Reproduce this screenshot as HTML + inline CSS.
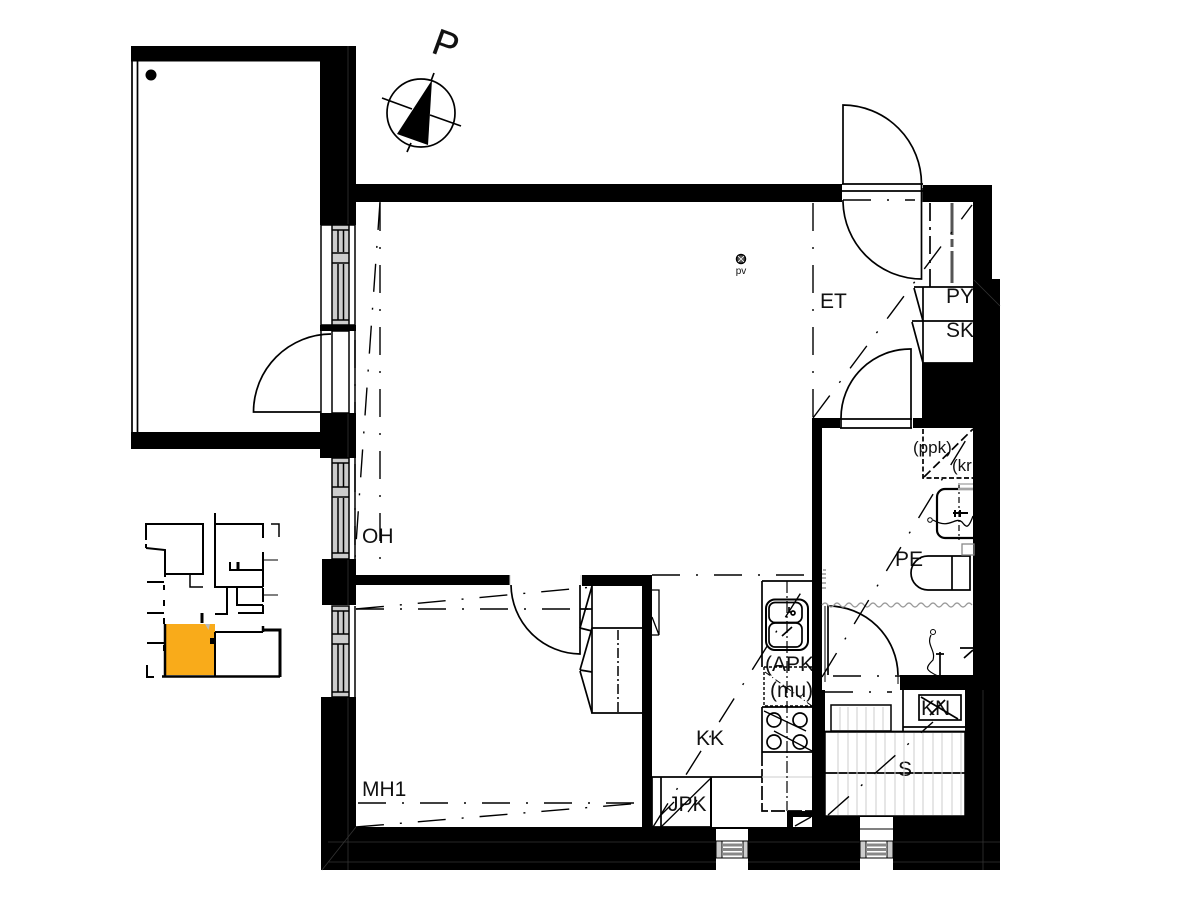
<!DOCTYPE html>
<html>
<head>
<meta charset="utf-8">
<style>
html,body{margin:0;padding:0;background:#fff;}
svg{display:block;}
text{font-family:"Liberation Sans",sans-serif;fill:#111;}
</style>
</head>
<body>
<svg width="1200" height="900" viewBox="0 0 1200 900" xmlns="http://www.w3.org/2000/svg">
<rect width="1200" height="900" fill="#fff"/>

<!-- labels (below walls so walls clip them) -->
<g font-size="21">
<text x="820" y="308">ET</text>
<text x="946" y="303">PY</text>
<text x="946" y="337">SK</text>
<text x="362" y="543">OH</text>
<text x="895" y="566">PE</text>
<text x="765" y="671">(APK</text>
<text x="770" y="697">(mu)</text>
<text x="696" y="745">KK</text>
<text x="668" y="811">JPK</text>
<text x="921" y="715">KN</text>
<text x="898" y="776">S</text>
<text x="362" y="796">MH1</text>
</g>
<text x="913" y="453" font-size="17">(ppk)</text>
<text x="952" y="471" font-size="17">(kr</text>
<text x="741" y="274" font-size="10" text-anchor="middle">pv</text>

<!-- walls -->
<g fill="#000">
<rect x="131" y="46" width="225" height="15.500"/>
<rect x="320" y="46" width="36" height="179"/>
<rect x="356" y="184" width="486" height="18"/>
<rect x="131" y="432" width="191" height="17"/>
<rect x="320" y="413" width="36" height="45"/>
<rect x="320" y="325" width="36" height="6"/>
<rect x="322" y="559" width="34" height="46"/>
<rect x="321" y="697" width="35" height="173"/>
<rect x="321" y="827" width="679" height="43"/>
<rect x="356" y="575" width="154" height="10"/>
<rect x="582" y="575" width="70" height="11"/>
<rect x="642" y="575" width="10" height="252"/>
<rect x="923" y="185" width="69" height="17"/>
<rect x="973" y="185" width="19" height="110"/>
<rect x="973" y="279" width="27" height="591"/>
<rect x="922" y="363" width="78" height="65"/>
<rect x="812" y="418" width="28" height="10"/>
<rect x="913" y="418" width="10" height="10"/>
<rect x="812" y="418" width="10" height="409"/>
<rect x="822" y="690" width="3" height="137"/>
<rect x="900" y="675" width="73" height="15"/>
<rect x="965" y="690" width="8" height="137"/>
<rect x="825" y="816" width="148" height="11"/>
<rect x="787" y="811" width="25" height="16"/>
</g>
<polygon points="793,827 793,817 812,817 812,827" fill="#fff"/>
<path d="M795,826 L811,817" stroke="#000" stroke-width="1.300" fill="none"/>

<!-- wall seams -->
<g stroke="#333" stroke-width="0.800" fill="none">
<path d="M348,46V225M348,413V458M348,559V605M348,697V870"/>
<path d="M328,842H1000M328,862H1000"/>
<path d="M322,870L356,827M983,690V870M974,280L1000,306"/>
</g>

<!-- balcony -->
<path d="M132,61V432M137.500,61V432" stroke="#000" stroke-width="1.700" fill="none"/>
<circle cx="151" cy="75" r="5.500" fill="#000"/>

<!-- side windows -->
<g stroke="#000" stroke-width="1.500">
<rect x="321" y="225" width="34" height="100" fill="#fff"/>
<rect x="332" y="225" width="17" height="100" fill="#ccc"/>
<path d="M338,230V252M343.500,230V252M338,264V320M343.500,264V320M332,230H349M332,253H349M332,263H349M332,320H349"/>
<rect x="332" y="331" width="17" height="82" fill="#fff"/>
<path d="M321,331V413M355,331V413"/>
<rect x="332" y="458" width="17" height="101" fill="#ccc"/>
<path d="M355,458V559M338,463V487M343.500,463V487M338,498V553M343.500,498V553M332,463H349M332,487H349M332,497H349M332,553H349"/>
<rect x="332" y="606" width="17" height="91" fill="#ccc"/>
<path d="M355,606V697M338,611V634M343.500,611V634M338,644V692M343.500,644V692M332,611H349M332,634H349M332,644H349M332,692H349"/>
</g>

<!-- balcony door -->
<path d="M321,412H253.500A78,78 0 0 1 331,334" stroke="#000" stroke-width="1.700" fill="none"/>

<!-- bottom windows -->
<g>
<rect x="716" y="829" width="32" height="41" fill="#fff"/>
<rect x="860" y="817" width="33" height="53" fill="#fff"/>
<g stroke="#000" stroke-width="1" fill="#ccc">
<rect x="716" y="841" width="32" height="17"/>
<rect x="722" y="841" width="21" height="17" fill="#fff"/>
<path d="M722,845H743M722,849.500H743M722,854H743" stroke="#888" stroke-width="3" fill="none"/>
<rect x="860" y="841" width="33" height="17"/>
<rect x="866" y="841" width="21" height="17" fill="#fff"/>
<path d="M866,845H887M866,849.500H887M866,854H887" stroke="#888" stroke-width="3" fill="none"/>
<path d="M716,841H748M860,829H893" fill="none"/>
</g>
</g>

<!-- entry door -->
<g stroke="#000" stroke-width="1.700" fill="none">
<rect x="842" y="184" width="81" height="18" fill="#fff" stroke="none"/>
<path d="M843,184V105A79,79 0 0 1 921.500,184"/>
<path d="M842,184H923M842,191H923" />
<path d="M921.500,184V279A79,79 0 0 1 843,202V200"/>
<path d="M840,184V191M923,188V202M841,190V199" stroke-width="1"/>
<!-- inner door -->
<path d="M911,418V349A69,69 0 0 0 841,418"/>
<path d="M841,418V428M911,418V428M840,419H912M840,428H912"/>
<!-- closets -->
<path d="M914,287H973M912,321H973M923,287V363"/>
<path d="M914,288L923,321M912,322L923,363M923,363H973"/>
<path d="M930,203V287" stroke-dasharray="18 6 3 6"/>
<path d="M952,203V287" stroke="#555" stroke-width="3" stroke-dasharray="32 4 8 4"/>
<!-- bedroom door -->
<path d="M511,585A70,70 0 0 0 580,654V585"/>
<path d="M510,575V585M581,575V585" stroke="#ccc" stroke-width="1"/>
<!-- wardrobes -->
<path d="M592,586V713H642M592,628H642M580,628L592,586M580,628L592,631"/>
<path d="M580,670L592,628M580,670L592,672M580,671L592,713"/>
<path d="M580,609H592"/>
<!-- kitchen -->
<path d="M762,581H812M762,581V667M762,707V752M762,707H812M762,752H812M652,777H762M652,777V827"/>
<path d="M661,777V827M652,827H711"/>
<path d="M711,777V827" stroke-width="2"/>
<path d="M762,752V811H812" stroke-dasharray="14 3"/>
<rect x="766" y="599.500" width="42" height="50.500" rx="9" stroke-width="2"/>
<rect x="769" y="602.500" width="33" height="20" rx="6"/>
<rect x="769" y="623" width="33" height="24" rx="6"/>
<circle cx="793" cy="613" r="2"/>
<path d="M789,607V612H791M792,627L782,636"/>
<circle cx="774" cy="720" r="7"/>
<circle cx="800" cy="720" r="7"/>
<circle cx="774" cy="742" r="7"/>
<circle cx="800" cy="742" r="7"/>
<path d="M764,711L806,731M774,731L812,751" stroke-width="1.300"/>
<!-- bathroom door -->
<path d="M828,675V606A70,70 0 0 1 898,675"/>
<path d="M825,606V675M825,675V682M898,675V684" stroke-width="1"/>
<!-- wardrobe / storage -->
<rect x="831" y="705" width="60" height="26" stroke-width="1.500"/>
<path d="M903,690V731M903,727H965M825,731.500H965M825,773H965"/>
<rect x="919" y="695" width="42" height="25"/>
<path d="M921,697L958,719M945,700L930,715"/>
</g>

<!-- hatches -->
<g stroke="#ccc" stroke-width="1" fill="none">
<path d="M840,707V730M848,707V730M857,707V730M866,707V730M874,707V730M883,707V730"/>
<path d="M838,733V815M848,733V815M857,733V815M866,733V815M876,733V815M885,733V815M895,733V815M904,733V815M914,733V815M923,733V815M933,733V815M942,733V815M952,733V815M961,733V815"/>
<path d="M762,777H812"/>
</g>
<rect x="825" y="732" width="140" height="84" fill="none" stroke="#000" stroke-width="1.500"/>

<!-- bath fixtures -->
<g stroke="#000" stroke-width="1.700" fill="none">
<path d="M973,489H945A8,8 0 0 0 937,497V530A8,8 0 0 0 945,538H973" stroke-width="2.200"/>
<path d="M933,520C950,530 955,516 962,522C966,527 968,530 973,516" stroke-width="1.300"/>
<circle cx="930" cy="520" r="2.300" stroke-width="1"/>
<path d="M953,513H968M955,510V517M960,510V517" stroke-width="2"/>
<path d="M959,483V540" stroke-dasharray="6 3 2 3" stroke-width="1.200"/>
<path d="M970,556H928V556A17,17 0 0 0 928,590H970ZM952,556V590"/>
<rect x="962" y="544" width="12" height="11" stroke="#888" stroke-width="1.300"/>
<path d="M958,484H973M958,489H973" stroke="#bbb"/>
<circle cx="933" cy="632" r="2.500" stroke-width="1"/>
<path d="M931,635C926,645 936,650 933,660C925,668 925,670 938,676" stroke-width="1.200"/>
<path d="M940,652V675M936,654H944M960,648H973M964,658L973,650"/>
<path d="M823,570H826M822,574H826M822,578H826M822,583H826M822,588H826" stroke="#999" stroke-width="1.500"/>
</g>
<path d="M822,605q3,-4 6,0t6,0t6,0t6,0t6,0t6,0t6,0t6,0t6,0t6,0t6,0t6,0t6,0t6,0t6,0t6,0t6,0t6,0t6,0t6,0t6,0t6,0t6,0t6,0t6,0" fill="none" stroke="#999" stroke-width="1.200"/>

<!-- dashed boxes -->
<g stroke="#000" stroke-width="1.400" fill="none">
<path d="M923,429V478H973" stroke-dasharray="5 2.500" stroke-width="1.700"/>
<path d="M924,477L973,429" stroke-dasharray="9 4" stroke-width="1.700"/>
<path d="M764,667V706H812M764,667H812" stroke-dasharray="3 2"/>
<path d="M765,672L812,706" stroke-dasharray="6 3 1 3" stroke-width="1"/>
<path d="M787,581V811" stroke-dasharray="12 3 2 3" stroke-width="1.200"/>
<path d="M618,630V713" stroke-dasharray="10 3 2 3" stroke-width="1.500"/>
</g>

<!-- dash-dot room outlines -->
<g stroke="#000" stroke-width="1.400" fill="none" stroke-dasharray="28 16 2 16">
<path d="M813,203V418"/>
<path d="M813,418L972,205"/>
<path d="M380,203V570"/>
<path d="M380,202L355,558"/>
<path d="M355,340V545"/>
<path d="M356,609H592"/>
<path d="M356,609L593,587"/>
<path d="M358,803H642"/>
<path d="M356,827L642,803"/>
<path d="M652,575H812"/>
<path d="M653,827L807,583"/>
<path d="M822,677L972,430"/>
<path d="M828,815L933,722"/>
<path d="M843,200H915"/>
<path d="M833,676H900"/>
<path d="M825,692H892"/>
</g>
<g stroke="#000" stroke-width="1.300" fill="none">
<path d="M661,827L711,778M660,816L674,802M688,812L697,800"/>
<path d="M652,590H659V635L652,617"/>
<path d="M652,635H659"/>
</g>

<!-- compass -->
<g>
<circle cx="421" cy="113" r="34" fill="#fff" stroke="#000" stroke-width="1.700"/>
<polygon points="432,80 397,134 428,145" fill="#000"/>
<path d="M382,98L412,109M430,115L461,126M434,73L431,81M411,143L407,152" stroke="#000" stroke-width="1.700" fill="none"/>
<text transform="translate(430,52) rotate(20)" font-size="37" stroke="#111" stroke-width="0.300">P</text>
</g>

<!-- pv symbol -->
<circle cx="741" cy="259" r="4.500" fill="#555" stroke="#000" stroke-width="1.500"/>
<path d="M738,256L744,262M744,256L738,262" stroke="#fff" stroke-width="0.800"/>

<!-- key plan -->
<g>
<rect x="165" y="624" width="50" height="51" fill="#f9ab1a"/>
<polygon points="205,624 210,624 208.500,630" fill="#bbb"/>
<g stroke="#000" stroke-width="2" fill="none">
<path d="M146,540V524H203V574H165"/>
<path d="M146,548V544M146,548L165,550V577"/>
<path d="M147,582H164M147,613H164M147,643H164"/>
<path d="M164,585V590M164,600V606M164,618V624M164,645V651"/>
<path d="M147,665V677H154"/>
<path d="M162,676.500H280" stroke-width="2.500"/>
<path d="M165,624V676" stroke-width="2.500"/>
<path d="M215,513V587H263M215,524H263V538M263,552V587"/>
<path d="M230,562V570H263" />
<path d="M238,562V570" stroke-width="3"/>
<path d="M263,588V602M263,605V613H238M237,588V605H263M227,588V614H215"/>
<path d="M264,560H278M264,595H278" stroke-width="1"/>
<path d="M271,524H279V537" stroke-width="1.500"/>
<path d="M215,632V676.500M215,632H263" stroke-width="2"/>
<path d="M263,630H280V677" stroke-width="3"/>
<path d="M263,626V632" stroke-width="2.500"/>
<path d="M202,613V623" stroke-width="3"/>
<path d="M190,575V587H203" stroke-width="1.500"/>
</g>
<rect x="210" y="638" width="5" height="6" fill="#000"/>
</g>
</svg>
</body>
</html>
